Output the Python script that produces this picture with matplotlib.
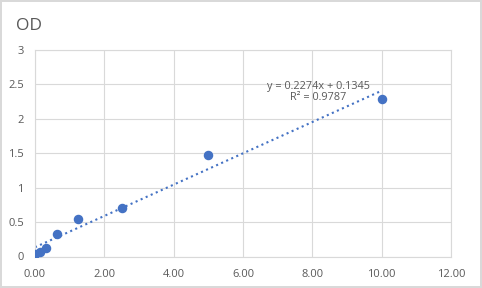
import matplotlib
matplotlib.use('Agg')
import matplotlib.pyplot as plt
import numpy as np

# concentration vs OD
conc = [0.0, 0.156, 0.3125, 0.625, 1.25, 2.5, 5.0, 10.0]
od = [0.04, 0.06, 0.13, 0.32, 0.54, 0.70, 1.47, 2.29]
slope = 0.2274
intercept = 0.1345
eq_text = "y = 0.2274x + 0.1345\nR² = 0.9787"

blue = '#4472C4'
grey = '#595959'

plt.rcParams['font.family'] = ['Open Sans', 'DejaVu Sans']

fig = plt.figure(figsize=(4.82, 2.88), dpi=100)
fig.patch.set_edgecolor('#d9d9d9')
fig.patch.set_linewidth(1.5)
ax = fig.add_axes([35/482, 31.5/288, 416/482, 206.5/288])

ax.scatter(conc, od, s=34, color=blue, zorder=3)
xt = np.array([min(conc), max(conc)])
ax.plot(xt, slope * xt + intercept, ':', color=blue, lw=1.5, zorder=2)

ax.set_xlim(0, 12)
ax.set_ylim(0, 3)
ax.set_xticks(range(0, 13, 2))
ax.set_xticklabels(['%.2f' % v for v in range(0, 13, 2)])
ax.set_yticks([0, 0.5, 1, 1.5, 2, 2.5, 3])
ax.set_yticklabels(['0', '0.5', '1', '1.5', '2', '2.5', '3'])
ax.grid(True, color='#d9d9d9', lw=0.8)
ax.set_axisbelow(True)
for s in ax.spines.values():
    s.set_color('#d9d9d9')
ax.tick_params(length=0, labelsize=8, colors=grey)
ax.tick_params(axis='x', pad=9)
ax.tick_params(axis='y', pad=8)

ax.text(8.17, 2.39, eq_text, ha='center', va='center', fontsize=7.8,
        color=grey, linespacing=1.05)
fig.text(16/482, 1 - 26/288, 'OD', fontsize=12.5, color=grey, va='center')

fig.savefig('out.png', dpi=100, edgecolor=fig.get_edgecolor())
